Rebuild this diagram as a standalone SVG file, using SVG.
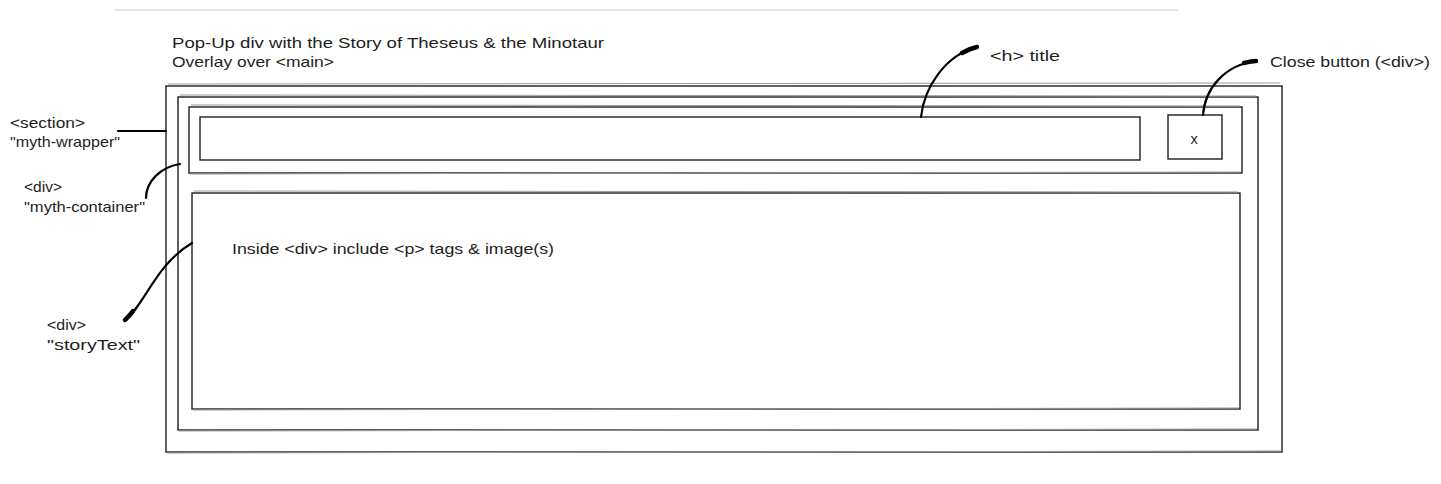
<svg xmlns="http://www.w3.org/2000/svg" width="1441" height="484" viewBox="0 0 1441 484">
<style>
  .box { fill: none; stroke: #1e1e1e; stroke-width: 1.4; }
  .ghost { fill: none; stroke: #9a9a9a; stroke-width: 1; }
  .conn { fill: none; stroke: #000; stroke-width: 2.2; stroke-linecap: round; }
  .tip { fill: none; stroke: #000; stroke-width: 4.5; stroke-linecap: round; }
  .lbl { font-family: "Liberation Sans", Arial, sans-serif; font-size: 14.5px; fill: #1e1e1e; }
</style>
<rect width="1441" height="484" fill="#ffffff"/>
<line x1="115" y1="10" x2="1178" y2="10" stroke="#dcdcdc" stroke-width="1.5"/>

<g id="caption">
  <text class="lbl" x="172" y="48" textLength="432" lengthAdjust="spacingAndGlyphs">Pop-Up div with the Story of Theseus &amp; the Minotaur</text>
  <text class="lbl" x="172" y="67" textLength="162" lengthAdjust="spacingAndGlyphs">Overlay over &lt;main&gt;</text>
</g>

<g id="myth-wrapper">
  <rect class="box" x="166" y="86" width="1116" height="366"/>
  <path class="ghost" d="M168,84 L1280,83 M167,453 L1281,451"/>
</g>
<g id="myth-container">
  <rect class="box" x="178" y="97" width="1080" height="333"/>
  <path class="ghost" d="M180,95 L1256,96 M179,431 L1257,429"/>
</g>
<g id="header">
  <rect class="box" x="189" y="107" width="1053" height="66"/>
  <path class="ghost" d="M191,105 L1240,106 M190,174 L1241,172"/>
</g>
<g id="title-box">
  <rect class="box" x="200" y="117" width="940" height="43" stroke-width="1.8"/>
</g>
<g id="close-button">
  <rect class="box" x="1168" y="115" width="54" height="44"/>
  <text class="lbl" x="1194" y="144" text-anchor="middle" font-size="12">x</text>
</g>
<g id="storyText">
  <rect class="box" x="192" y="193" width="1048" height="216"/>
  <path class="ghost" d="M194,191 L1238,192 M193,410 L1239,408"/>
  <text class="lbl" x="232" y="254" textLength="322" lengthAdjust="spacingAndGlyphs">Inside &lt;div&gt; include &lt;p&gt; tags &amp; image(s)</text>
</g>

<g id="connectors">
  <path class="conn" d="M118,131 L166,131"/>
  <path class="conn" d="M146,198 C146,182 160,167 180,164"/>
  <path class="conn" d="M125,320 C145,305 155,265 192,243"/>
  <path class="tip" d="M125,320 C128,317 131,314 133,311"/>
  <path class="conn" d="M921,117 C924,88 945,55 977,47"/>
  <path class="tip" d="M962,53 C967,50 972,48 977,47"/>
  <path class="conn" d="M1203,115 C1205,88 1225,65 1256,61"/>
  <path class="tip" d="M1244,63 C1248,62 1252,61 1256,61"/>
</g>

<g id="labels">
  <text class="lbl" x="990" y="61" textLength="70" lengthAdjust="spacingAndGlyphs">&lt;h&gt; title</text>
  <text class="lbl" x="1270" y="67" textLength="160" lengthAdjust="spacingAndGlyphs">Close button (&lt;div&gt;)</text>
  <text class="lbl" x="10" y="128" textLength="75" lengthAdjust="spacingAndGlyphs">&lt;section&gt;</text>
  <text class="lbl" x="10" y="147" textLength="110" lengthAdjust="spacingAndGlyphs">"myth-wrapper"</text>
  <text class="lbl" x="24" y="192" textLength="38" lengthAdjust="spacingAndGlyphs">&lt;div&gt;</text>
  <text class="lbl" x="24" y="212" textLength="121" lengthAdjust="spacingAndGlyphs">"myth-container"</text>
  <text class="lbl" x="47" y="330" textLength="39" lengthAdjust="spacingAndGlyphs">&lt;div&gt;</text>
  <text class="lbl" x="47" y="350" textLength="93" lengthAdjust="spacingAndGlyphs">"storyText"</text>
</g>
</svg>
